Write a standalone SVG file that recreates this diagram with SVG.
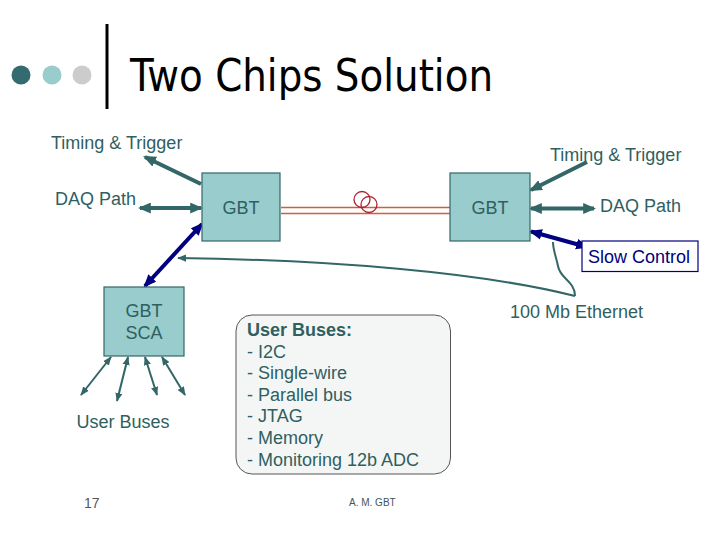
<svg xmlns="http://www.w3.org/2000/svg" width="720" height="540" viewBox="0 0 720 540">
<style>
.t{font-family:"Liberation Sans",Arial,sans-serif;font-size:18px;fill:#2f5f5f}
.box{fill:#99cccc;stroke:#336666;stroke-width:1.2}
.thick{stroke:#336666;stroke-width:4;fill:none}
.blue{stroke:#000080;stroke-width:4;fill:none}
.thin{stroke:#336666;stroke-width:2;fill:none}
.fiber{stroke:#d0603c;stroke-width:1.5}
</style>
<defs>
<marker id="ah" viewBox="0 0 12 10" refX="10" refY="5" markerWidth="13" markerHeight="11" markerUnits="userSpaceOnUse" orient="auto-start-reverse"><path d="M0,0 L12,5 L0,10 z" fill="#336666"/></marker>
<marker id="ab" viewBox="0 0 12 10" refX="10" refY="5" markerWidth="13" markerHeight="11" markerUnits="userSpaceOnUse" orient="auto-start-reverse"><path d="M0,0 L12,5 L0,10 z" fill="#000080"/></marker>
<marker id="as" viewBox="0 0 10 8" refX="9" refY="4" markerWidth="9" markerHeight="8" markerUnits="userSpaceOnUse" orient="auto-start-reverse"><path d="M0,0 L10,4 L0,8 z" fill="#336666"/></marker>
</defs>
<rect width="720" height="540" fill="#fff"/>
<g id="title">
<circle cx="21" cy="75" r="9.5" fill="#336b70"/>
<circle cx="52" cy="75" r="9.5" fill="#99cccc"/>
<circle cx="82" cy="75" r="9.5" fill="#cccccc"/>
<rect x="105.5" y="24" width="3" height="85" fill="#000"/>
<text x="130" y="91" font-family="DejaVu Sans,sans-serif" font-size="44" textLength="363" lengthAdjust="spacingAndGlyphs" fill="#000">Two Chips Solution</text>
</g>
<g id="connectors">
<line class="fiber" x1="281" y1="207.5" x2="450" y2="207.5"/>
<line class="fiber" x1="281" y1="213.5" x2="450" y2="213.5"/>
<circle cx="362" cy="199.5" r="8" fill="none" stroke="#b02030" stroke-width="1.3"/>
<circle cx="369" cy="204.5" r="8" fill="none" stroke="#b02030" stroke-width="1.3"/>
<line class="thick" x1="201" y1="184" x2="145" y2="157" marker-end="url(#ah)"/>
<line class="thick" x1="140" y1="208" x2="201" y2="208" marker-start="url(#ah)" marker-end="url(#ah)"/>
<line class="blue" x1="145" y1="286" x2="202" y2="224" marker-start="url(#ab)" marker-end="url(#ab)"/>
<line class="thick" x1="587" y1="162" x2="531" y2="190" marker-end="url(#ah)"/>
<line class="thick" x1="531" y1="208.5" x2="594" y2="208.5" marker-start="url(#ah)" marker-end="url(#ah)"/>
<line class="blue" x1="531" y1="231.5" x2="587" y2="247" marker-start="url(#ab)" marker-end="url(#ab)"/>
<line class="thin" x1="111" y1="357" x2="81" y2="395" marker-start="url(#as)" marker-end="url(#as)"/>
<line class="thin" x1="128" y1="357" x2="117" y2="401" marker-start="url(#as)" marker-end="url(#as)"/>
<line class="thin" x1="145" y1="357" x2="157" y2="395" marker-start="url(#as)" marker-end="url(#as)"/>
<line class="thin" x1="162" y1="357" x2="185" y2="395" marker-start="url(#as)" marker-end="url(#as)"/>
<path class="thin" d="M575,296 C480,272 330,260 178,258" marker-end="url(#as)"/>
<path class="thin" d="M575,296 C575,281 560,279 558,266 C556,256 553,250 553,242"/>
</g>
<g id="gbt-left">
<rect class="box" x="202" y="173" width="78" height="68"/>
<text class="t" x="241" y="214" text-anchor="middle" fill="#336666">GBT</text>
</g>
<g id="gbt-right">
<rect class="box" x="450" y="173" width="80" height="68"/>
<text class="t" x="490" y="214" text-anchor="middle">GBT</text>
</g>
<g id="gbt-sca">
<rect class="box" x="104" y="287" width="80" height="69"/>
<text class="t" x="144" y="317" text-anchor="middle">GBT</text>
<text class="t" x="144" y="338.5" text-anchor="middle">SCA</text>
</g>
<g id="slow-control">
<rect x="582" y="241" width="116" height="30.5" fill="#fff" stroke="#000080" stroke-width="1.2"/>
<text class="t" x="588" y="262.5" style="fill:#000080">Slow Control</text>
</g>
<g id="user-buses-box">
<rect x="236" y="315" width="214.5" height="159" rx="16" fill="#f4f6f6" stroke="#555" stroke-width="1"/>
<text class="t" x="247" y="336" font-weight="bold">User Buses:</text>
<text class="t" x="247" y="357.6">- I2C</text>
<text class="t" x="247" y="379.2">- Single-wire</text>
<text class="t" x="247" y="400.8">- Parallel bus</text>
<text class="t" x="247" y="422.4">- JTAG</text>
<text class="t" x="247" y="444">- Memory</text>
<text class="t" x="247" y="465.6">- Monitoring 12b ADC</text>
</g>
<g id="labels">
<text class="t" x="51" y="149">Timing &amp; Trigger</text>
<text class="t" x="55" y="205">DAQ Path</text>
<text class="t" x="550" y="161">Timing &amp; Trigger</text>
<text class="t" x="600" y="212">DAQ Path</text>
<text class="t" x="510" y="318">100 Mb Ethernet</text>
<text class="t" x="76.5" y="428">User Buses</text>
<text x="84" y="508" font-family="Liberation Sans,Arial,sans-serif" font-size="14" fill="#555">17</text>
<text x="349" y="505.5" font-family="Liberation Sans,Arial,sans-serif" font-size="10" fill="#445555">A. M. GBT</text>
</g>
</svg>
